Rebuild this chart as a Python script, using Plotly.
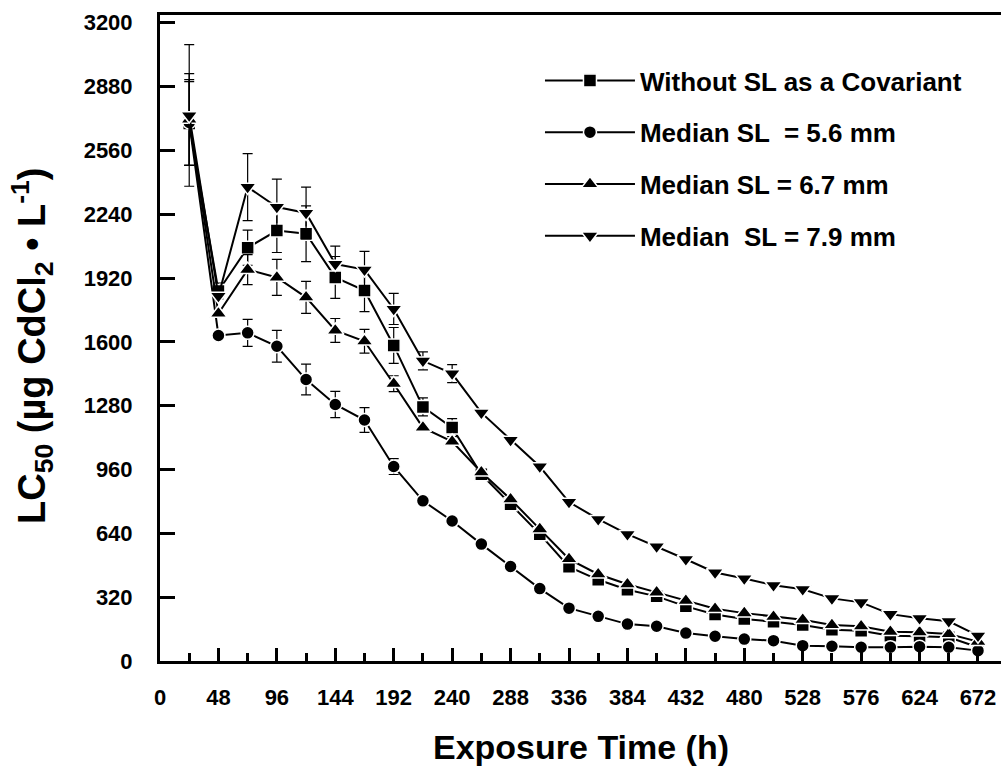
import plotly.graph_objects as go

# Exposure time (h)
hours = [24, 48, 72, 96, 120, 144, 168, 192, 216, 240, 264, 288, 312, 336,
         360, 384, 408, 432, 456, 480, 504, 528, 552, 576, 600, 624, 648, 672]

# LC50 estimates (ug CdCl2 / L)
lc50_no_cov = [2695, 1855, 2072, 2158, 2142, 1923, 1857, 1582, 1274, 1170, 936, 786, 636, 472,
               407, 357, 324, 274, 233, 210, 197, 180, 157, 152, 127, 124, 119, 69]
lc50_sl56 = [2700, 1632, 1645, 1578, 1411, 1286, 1208, 975, 803, 702, 586, 474, 363, 265,
             224, 185, 174, 140, 124, 110, 102, 77, 74, 69, 69, 72, 69, 52]
lc50_sl67 = [2715, 1742, 1962, 1923, 1823, 1657, 1603, 1390, 1170, 1100, 946, 811, 661, 511,
             435, 385, 344, 302, 262, 240, 222, 207, 180, 174, 147, 144, 135, 97]
lc50_sl79 = [2735, 1830, 2376, 2276, 2246, 1990, 1962, 1765, 1505, 1441, 1245, 1108, 975, 797,
             711, 636, 574, 510, 444, 414, 380, 360, 314, 294, 235, 214, 199, 127]

# Standard errors (None = no bar shown)
N = None
err_no_cov = [210, 40, 88, 110, 140, 105, 105, 90, 45, 45] + [N] * 18
err_sl56 = [215, N, 68, 80, 77, 66, 62, 40] + [N] * 20
err_sl67 = [230, N, 75, 90, 80, 60, 60, 40] + [N] * 20
err_sl79 = [355, N, 168, 140, 130, 90, 92, 78, 45, 45] + [N] * 18

series_names = ["Without SL as a Covariant", "Median SL  = 5.6 mm",
                "Median SL = 6.7 mm", "Median  SL = 7.9 mm"]
series_values = [lc50_no_cov, lc50_sl56, lc50_sl67, lc50_sl79]
series_errors = [err_no_cov, err_sl56, err_sl67, err_sl79]
symbols = ["square", "circle", "triangle-up", "triangle-down"]
sizes = [13, 13, 15, 15]

x_ticks = list(range(0, 673, 48))
y_ticks = list(range(0, 3201, 320))

FONT = "Arial, Liberation Sans, Helvetica, sans-serif"

fig = go.Figure()
for i, (name, vals, errs, sym, sz) in enumerate(
        zip(series_names, series_values, series_errors, symbols, sizes)):
    fig.add_trace(go.Scatter(
        x=hours, y=vals, name=name, mode="lines+markers",
        legendgroup=f"g{i}",
        line=dict(color="black", width=2),
        marker=dict(symbol=sym, size=sz, color="black",
                    line=dict(color="white", width=1.5)),
        error_y=dict(type="data", array=errs, visible=True,
                     color="black", thickness=1.2, width=5),
    ))

fig.update_layout(
    width=1001, height=768,
    margin=dict(l=160, r=0, t=15, b=107),
    paper_bgcolor="white", plot_bgcolor="white",
    font=dict(family=FONT, color="black"),
    showlegend=True,
    legend=dict(
        x=0.4518, y=0.935, xanchor="left", yanchor="top",
        bgcolor="rgba(0,0,0,0)", borderwidth=0,
        font=dict(family=FONT, size=26, color="black", weight="bold"),
        itemwidth=90, tracegroupgap=15,
    ),
    xaxis=dict(
        range=[0, 690.9], tickmode="array", tickvals=x_ticks,
        ticktext=[str(v) for v in x_ticks],
        ticks="inside", ticklen=13, tickwidth=3, tickcolor="black",
        minor=dict(ticks="inside", ticklen=8, tickwidth=3, tickcolor="black",
                   tickvals=list(range(24, 673, 48))),
        showline=True, linewidth=3, linecolor="black", mirror=True,
        showgrid=False, zeroline=False,
        tickfont=dict(family=FONT, size=22, color="black", weight="bold"),
        ticklabelstandoff=15,
    ),
    yaxis=dict(
        range=[0, 3238.6], tickmode="array", tickvals=y_ticks,
        ticktext=[str(v) for v in y_ticks],
        ticks="inside", ticklen=15, tickwidth=3, tickcolor="black",
        showline=True, linewidth=3, linecolor="black", mirror=False,
        showgrid=False, zeroline=False,
        tickfont=dict(family=FONT, size=22, color="black", weight="bold"),
        ticklabelstandoff=20,
    ),
    annotations=[
        dict(text="Exposure Time (h)", xref="paper", yref="paper",
             x=(581 - 160) / 841, y=(661 - 747) / 646,
             xanchor="center", yanchor="middle", showarrow=False,
             font=dict(family=FONT, size=34, color="black", weight="bold")),
        dict(text="LC<sub>50</sub> (µg CdCl<sub>2</sub> • L<sup>-1</sup>)",
             xref="paper", yref="paper",
             x=(32 - 160) / 841, y=(661 - 346) / 646, textangle=-90,
             xanchor="center", yanchor="middle", showarrow=False,
             font=dict(family=FONT, size=38, color="black", weight="bold")),
    ],
)

fig.write_html("out.html")
